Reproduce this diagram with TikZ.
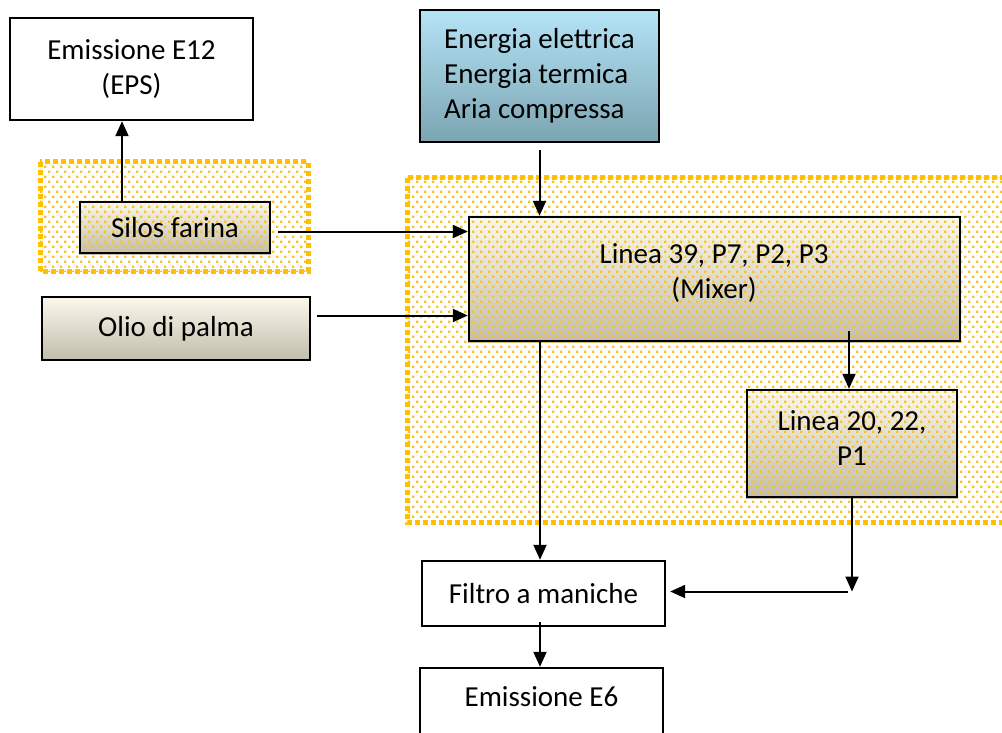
\documentclass[tikz,border=0pt]{standalone}
\usepackage{fontspec}
\setmainfont{Carlito}
\usetikzlibrary{arrows.meta,patterns}
\pgfdeclarelayer{bg}\pgfdeclarelayer{mid}\pgfsetlayers{bg,mid,main}
\pgfdeclarepatternformonly{wdots}{\pgfpoint{-0.5pt}{-0.5pt}}{\pgfpoint{8.5pt}{10.5pt}}{\pgfpoint{8pt}{10pt}}{%
 \pgfpathrectangle{\pgfpoint{0pt}{0pt}}{\pgfpoint{2.3pt}{2.3pt}}%
 \pgfpathrectangle{\pgfpoint{4pt}{5pt}}{\pgfpoint{2.3pt}{2.3pt}}%
 \pgfusepath{fill}}
\definecolor{gold}{RGB}{255,192,0}
\definecolor{dotc}{RGB}{248,194,40}
\definecolor{tantop}{RGB}{250,248,236}
\definecolor{tanbot}{RGB}{194,189,172}
\definecolor{bluetop}{RGB}{180,228,246}
\definecolor{bluebot}{RGB}{124,164,178}
\begin{document}
\begin{tikzpicture}[x=1pt,y=-1pt,
 font=\fontsize{29}{35}\selectfont,
 box/.style={draw=black, line width=2.4pt, rectangle, inner sep=0pt, align=center},
 arr/.style={line width=2pt, -{Triangle[length=15pt,width=13pt]}},
 tan/.style={top color=tantop, bottom color=tanbot},
 zone/.style={pattern=wdots, pattern color=dotc},
 zoneborder/.style={draw=gold, line width=5pt, dash pattern=on 5pt off 3pt}]
\useasboundingbox (0,0) rectangle (1002,733);

% nodes
\node[box, minimum width=243pt, minimum height=102pt] (e12) at (131.5,69) {Emissione E12\\(EPS)};
\node[box, top color=bluetop, bottom color=bluebot, align=left, minimum width=239pt, minimum height=132pt] (energy) at (539.5,76) {Energia elettrica\\Energia termica\\Aria compressa};
\node[box, minimum width=190pt, minimum height=51pt] (silos) at (175,227.5) {Silos farina};
\node[box, tan, minimum width=268pt, minimum height=63pt] (olio) at (176,328.5) {Olio di palma};
\node[box, minimum width=491pt, minimum height=124pt] (mixer) at (714.5,279) {};
\node[align=center] (mixtxt) at (714,273) {Linea 39, P7, P2, P3\\(Mixer)};
\node[box, minimum width=210pt, minimum height=107pt] (l20) at (852,443.5) {};
\node[align=center] (l20txt) at (852,438) {Linea 20, 22,\\P1};
\node[box, minimum width=243pt, minimum height=65pt] (filtro) at (543.5,593.5) {Filtro a maniche};
\node[box, minimum width=243pt, minimum height=72pt] (e6) at (541.5,704) {};
\node (e6txt) at (541.5,697) {Emissione E6};

% shading under the zones
\begin{pgfonlayer}{bg}
\shade[tan] (silos.south west) rectangle (silos.north east);
\shade[tan] (mixer.south west) rectangle (mixer.north east);
\shade[tan] (l20.south west) rectangle (l20.north east);
\end{pgfonlayer}
\begin{pgfonlayer}{mid}
\fill[zone] (40,162) rectangle (308,271);
\fill[zone] (407,178) rectangle (1010,522);
\end{pgfonlayer}

% zone borders
\draw[zoneborder] (40,162) rectangle (308,271);
\draw[zoneborder] (407,178) rectangle (1010,522);

% connectors
\draw[arr] ([xshift=-53pt]silos.north) -- ([xshift=-53pt]silos.north |- e12.south);
\coordinate (s1) at ([xshift=7pt,yshift=-4pt]silos.east);
\draw[arr] (s1) -- (s1 -| mixer.west);
\coordinate (o1) at ([xshift=6pt,yshift=13pt]olio.east);
\draw[arr] (o1) -- (o1 -| mixer.west);
\coordinate (en1) at ([yshift=-7pt]energy.south);
\draw[arr] (en1) -- (en1 |- mixer.north);
\coordinate (l20in) at ([xshift=-3pt]l20.north);
\coordinate (mixbot) at ([yshift=11pt]mixer.south);
\draw[arr] (l20in |- mixbot) -- (l20in);
\coordinate (fin) at ([xshift=-3.5pt]filtro.north);
\draw[arr] (fin |- mixer.south) -- (fin);
\coordinate (corner) at ([yshift=2pt]l20.south |- filtro.east);
\draw[arr] (l20.south) -- (corner);
\coordinate (fright) at ([xshift=4pt]filtro.east);
\draw[arr] ([xshift=-4pt]corner) -- (fright |- corner);
\coordinate (fout) at ([xshift=-3.5pt,yshift=5pt]filtro.south);
\draw[arr] (fout) -- (fout |- e6.north);
\end{tikzpicture}
\end{document}
